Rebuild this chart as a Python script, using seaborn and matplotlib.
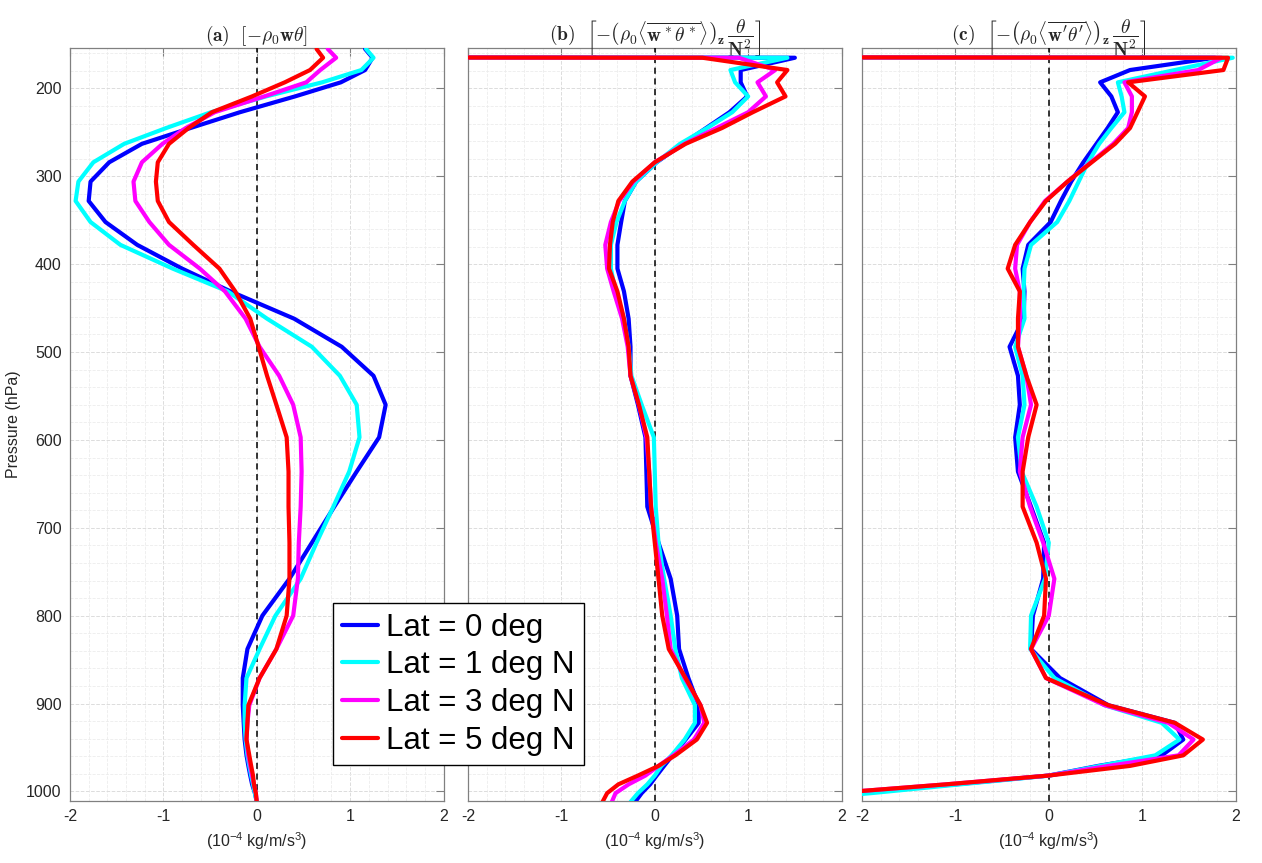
import numpy as np
import pandas as pd
import matplotlib
matplotlib.use('Agg')
from matplotlib import pyplot as plt
from matplotlib.ticker import MultipleLocator
import seaborn as sns

# pressure levels (hPa), shared by all panels
pres = [155, 165, 179, 193, 209, 227, 245, 263, 284, 306, 328, 352, 378, 405, 431, 462, 494, 527,
        560, 597, 636, 676, 717, 758, 800, 838, 871, 902, 922, 941, 959, 971, 982, 992, 1002, 1012]

lat_labels = ['Lat = 0 deg', 'Lat = 1 deg N', 'Lat = 3 deg N', 'Lat = 5 deg N']
lat_colors = ['#0000ff', '#00ffff', '#ff00ff', '#ff0000']

# (a) [-rho0 w theta]
a_lat0 = [1.16, 1.24, 1.16, 0.90, 0.41, -0.18, -0.71, -1.23, -1.58, -1.78, -1.80, -1.62, -1.28, -0.80, -0.28, 0.40, 0.91, 1.25,
          1.38, 1.31, 1.07, 0.83, 0.59, 0.35, 0.06, -0.10, -0.15, -0.15, -0.14, -0.13, -0.11, -0.09, -0.07, -0.05, -0.02, 0.0]
a_lat1 = [1.17, 1.25, 1.12, 0.70, 0.10, -0.49, -0.97, -1.42, -1.75, -1.91, -1.94, -1.78, -1.46, -0.90, -0.31, 0.11, 0.59, 0.89,
          1.07, 1.10, 0.99, 0.82, 0.64, 0.47, 0.20, 0.03, -0.11, -0.13, -0.13, -0.12, -0.10, -0.08, -0.06, -0.04, -0.02, 0.0]
a_lat3 = [0.76, 0.85, 0.68, 0.53, 0.08, -0.45, -0.76, -1.01, -1.23, -1.32, -1.30, -1.15, -0.94, -0.61, -0.34, -0.12, 0.03, 0.24,
          0.39, 0.47, 0.48, 0.47, 0.45, 0.44, 0.39, 0.21, 0.03, -0.08, -0.10, -0.11, -0.09, -0.07, -0.05, -0.03, -0.01, 0.0]
a_lat5 = [0.64, 0.71, 0.57, 0.30, -0.05, -0.48, -0.73, -0.94, -1.06, -1.08, -1.06, -0.94, -0.68, -0.40, -0.23, -0.07, 0.02, 0.11,
          0.21, 0.32, 0.34, 0.34, 0.35, 0.35, 0.32, 0.21, 0.03, -0.09, -0.10, -0.11, -0.08, -0.06, -0.04, -0.03, -0.01, 0.0]

# (b) stationary eddy term
b_lat0 = [-100, 1.50, 0.92, 0.92, 0.99, 0.80, 0.55, 0.30, 0.02, -0.20, -0.32, -0.36, -0.40, -0.40, -0.33, -0.28, -0.26, -0.26,
          -0.18, -0.10, -0.09, -0.08, 0.04, 0.17, 0.24, 0.26, 0.36, 0.47, 0.47, 0.33, 0.19, 0.10, 0.02, -0.05, -0.14, -0.21]
b_lat1 = [-100, 1.42, 0.81, 0.86, 1.00, 0.83, 0.56, 0.27, 0.02, -0.20, -0.32, -0.41, -0.47, -0.47, -0.42, -0.33, -0.28, -0.25,
          -0.14, -0.01, 0.00, 0.01, 0.04, 0.10, 0.17, 0.22, 0.29, 0.43, 0.43, 0.32, 0.18, 0.07, 0.00, -0.08, -0.18, -0.26]
b_lat3 = [-100, 0.90, 1.29, 1.10, 1.19, 1.00, 0.66, 0.32, 0.00, -0.23, -0.38, -0.47, -0.53, -0.51, -0.44, -0.35, -0.29, -0.26,
          -0.17, -0.09, -0.06, -0.04, 0.01, 0.08, 0.13, 0.17, 0.32, 0.49, 0.53, 0.42, 0.20, 0.04, -0.10, -0.28, -0.42, -0.46]
b_lat5 = [-100, 0.51, 1.42, 1.31, 1.40, 1.05, 0.72, 0.33, 0.00, -0.24, -0.39, -0.45, -0.48, -0.49, -0.40, -0.33, -0.28, -0.26,
          -0.17, -0.08, -0.06, -0.04, 0.00, 0.04, 0.08, 0.15, 0.33, 0.49, 0.56, 0.45, 0.22, 0.04, -0.18, -0.39, -0.51, -0.56]

# (c) transient eddy term
c_lat0 = [-100, 1.78, 0.87, 0.55, 0.67, 0.74, 0.63, 0.51, 0.37, 0.24, 0.13, 0.02, -0.22, -0.28, -0.26, -0.27, -0.42, -0.33,
          -0.31, -0.36, -0.33, -0.19, -0.05, -0.06, -0.17, -0.19, 0.12, 0.64, 1.35, 1.44, 1.21, 0.53, 0.00, -1.00, -2.20, -3.40]
c_lat1 = [-100, 1.97, 1.35, 0.74, 0.78, 0.81, 0.67, 0.54, 0.42, 0.32, 0.22, 0.09, -0.19, -0.26, -0.27, -0.26, -0.36, -0.28,
          -0.26, -0.33, -0.29, -0.13, 0.00, -0.04, -0.19, -0.20, 0.06, 0.60, 1.21, 1.40, 1.14, 0.55, 0.01, -0.95, -1.90, -3.00]
c_lat3 = [-100, 1.85, 1.60, 0.81, 0.89, 0.89, 0.85, 0.69, 0.45, 0.20, -0.04, -0.20, -0.34, -0.36, -0.31, -0.31, -0.33, -0.24,
          -0.19, -0.28, -0.31, -0.20, -0.06, 0.06, 0.00, -0.19, -0.03, 0.60, 1.28, 1.55, 1.39, 0.64, 0.00, -1.10, -2.30, -3.50]
c_lat5 = [-100, 1.92, 1.87, 0.85, 1.03, 0.95, 0.87, 0.71, 0.46, 0.20, -0.03, -0.20, -0.36, -0.44, -0.31, -0.33, -0.33, -0.24,
          -0.13, -0.22, -0.28, -0.28, -0.13, -0.03, -0.05, -0.19, -0.03, 0.64, 1.35, 1.65, 1.44, 0.87, 0.00, -1.10, -2.30, -3.50]

titles = [
    r'$\mathbf{(a)}\ \ [-\rho_\mathbf{0}\mathbf{w}\theta]$',
    r'$\mathbf{(b)}\ \ \left[-\left(\rho_\mathbf{0}\langle\overline{\mathbf{w}^*\theta^*}\rangle\right)_\mathbf{z}\,\dfrac{\theta}{\mathbf{N^2}}\right]$',
    r'$\mathbf{(c)}\ \ \left[-\left(\rho_\mathbf{0}\langle\overline{\mathbf{w}^{\prime}\theta^{\prime}}\rangle\right)_\mathbf{z}\,\dfrac{\theta}{\mathbf{N^2}}\right]$',
]
panels = [[a_lat0, a_lat1, a_lat3, a_lat5],
          [b_lat0, b_lat1, b_lat3, b_lat5],
          [c_lat0, c_lat1, c_lat3, c_lat5]]

sns.set_theme(style='white')
plt.rcParams['font.family'] = ['Liberation Sans', 'DejaVu Sans']
plt.rcParams['axes.unicode_minus'] = False
plt.rcParams['mathtext.fontset'] = 'custom'
plt.rcParams['mathtext.rm'] = 'Liberation Sans'
plt.rcParams['mathtext.it'] = 'Liberation Sans:italic'
plt.rcParams['mathtext.bf'] = 'Liberation Sans:bold'

fig = plt.figure(figsize=(12.62, 8.63), dpi=100)
lefts = [70 / 1262, 468 / 1262, 862 / 1262]
axes = [fig.add_axes([l, 0.0718, 0.2960, 0.8725]) for l in lefts]

for i, ax in enumerate(axes):
    rows = []
    for lab, vals in zip(lat_labels, panels[i]):
        for p, v in zip(pres, vals):
            rows.append({'p': p, 'val': v, 'lat': lab})
    df = pd.DataFrame(rows)
    ax.grid(True, which='major', color='#dcdcdc', lw=0.7, ls='--')
    ax.grid(True, which='minor', color='#ececec', lw=0.6, ls='--')
    ax.set_axisbelow(True)
    ax.axvline(0, color='black', lw=1.1, ls=(0, (4, 3)), zorder=3)
    sns.lineplot(data=df, x='val', y='p', hue='lat', palette=lat_colors, sort=False,
                 estimator=None, orient='y', lw=3, legend=False, ax=ax, zorder=4)
    ax.set_xlim(-2, 2)
    ax.set_ylim(1011, 154)
    ax.xaxis.set_major_locator(MultipleLocator(1))
    ax.xaxis.set_minor_locator(MultipleLocator(0.2))
    ax.yaxis.set_major_locator(MultipleLocator(100))
    ax.yaxis.set_minor_locator(MultipleLocator(20))
    ax.tick_params(which='major', direction='in', length=6, width=0.8, color='#808080',
                   top=True, right=True, labelsize=11.5, labelcolor='#262626', pad=6)
    ax.tick_params(which='minor', length=0)
    for s in ax.spines.values():
        s.set_color('#808080')
        s.set_linewidth(0.9)
    ax.set_xlabel(r'(10$^{-4}$ kg/m/s$^{3}$)', fontsize=11.5, color='#262626', labelpad=4)
    ax.set_ylabel('')
    ax.set_title(titles[i], fontsize=14, math_fontfamily='cm', pad=5)
    if i > 0:
        ax.set_yticklabels([])

axes[0].set_ylabel('Pressure (hPa)', fontsize=11.5, color='#262626', labelpad=4)

handles = [plt.Line2D([], [], color=c, lw=3) for c in lat_colors]
leg = fig.legend(handles, lat_labels, loc='upper left', bbox_to_anchor=(0.2635, 0.301),
                 fontsize=22.5, frameon=True, fancybox=False, edgecolor='black', framealpha=1,
                 handlelength=1.15, handletextpad=0.25, borderpad=0.3, labelspacing=0.25,
                 borderaxespad=0)
for t in leg.get_texts():
    t.set_color('black')

fig.savefig('out.png', dpi=100)
